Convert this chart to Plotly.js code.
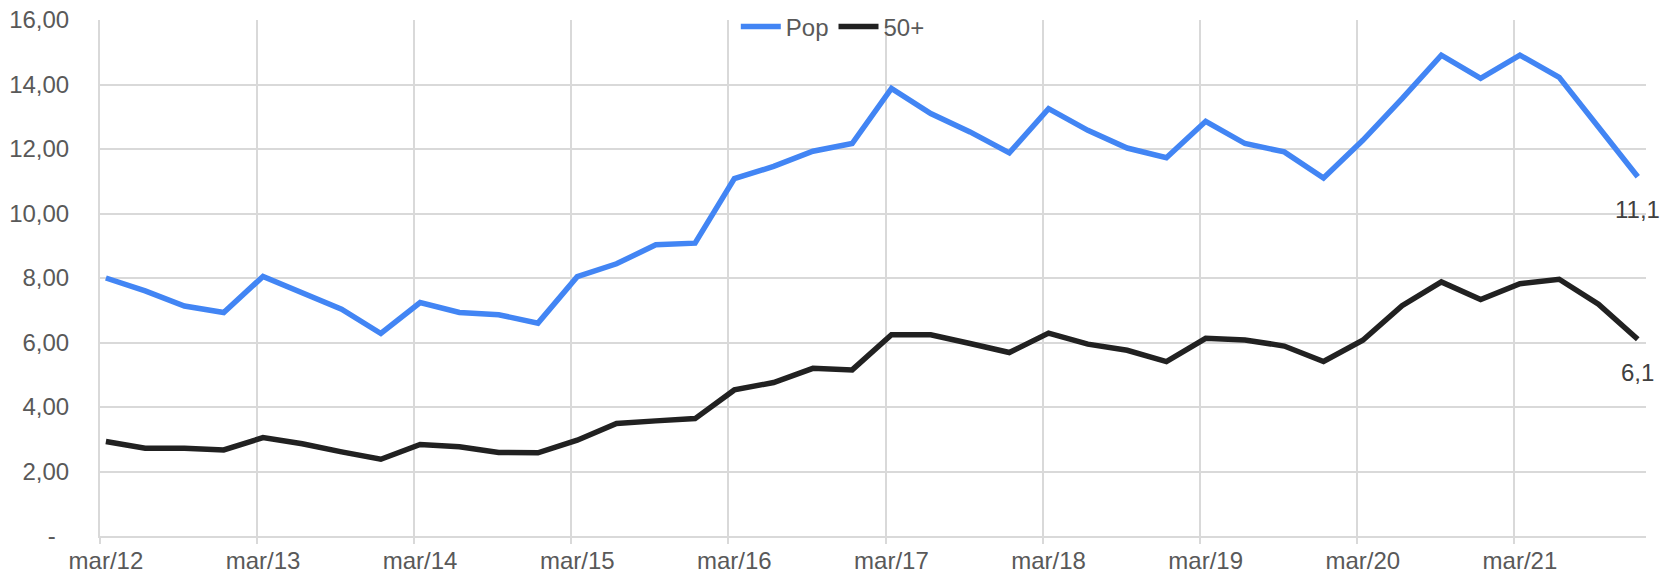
<!DOCTYPE html>
<html>
<head>
<meta charset="utf-8">
<script src="https://cdn.plot.ly/plotly-3.0.1.min.js"></script>
<style>
html,body{margin:0;padding:0;background:#fff;}
#chart{width:1663px;height:576px;}
</style>
</head>
<body>
<div id="chart"></div>
<script>
const quarters = [
  'mar/12','jun/12','set/12','dez/12',
  'mar/13','jun/13','set/13','dez/13',
  'mar/14','jun/14','set/14','dez/14',
  'mar/15','jun/15','set/15','dez/15',
  'mar/16','jun/16','set/16','dez/16',
  'mar/17','jun/17','set/17','dez/17',
  'mar/18','jun/18','set/18','dez/18',
  'mar/19','jun/19','set/19','dez/19',
  'mar/20','jun/20','set/20','dez/20',
  'mar/21','jun/21','set/21','dez/21'
];
const pop = [8.00,7.60,7.13,6.93,8.05,7.52,7.03,6.28,7.24,6.93,6.86,6.60,
             8.04,8.44,9.03,9.08,11.08,11.46,11.93,12.17,13.88,13.10,12.53,11.88,
             13.25,12.58,12.03,11.73,12.86,12.17,11.91,11.10,12.27,13.56,14.91,14.19,
             14.91,14.22,12.68,11.14];
const fiftyPlus = [2.93,2.72,2.72,2.67,3.05,2.86,2.61,2.38,2.84,2.77,2.59,2.58,
                   2.97,3.49,3.57,3.64,4.53,4.76,5.20,5.15,6.24,6.24,5.97,5.69,
                   6.29,5.95,5.76,5.41,6.13,6.08,5.89,5.41,6.07,7.14,7.88,7.33,
                   7.82,7.96,7.19,6.10];
const seriesNames = ['Pop', '50+'];
const yTickVals = [0,2,4,6,8,10,12,14,16];
const yTickText = ['-\u00A0\u00A0','2,00','4,00','6,00','8,00','10,00','12,00','14,00','16,00'];

const xIdx = quarters.map((_, i) => i);
const labelIdx = xIdx.filter(i => quarters[i].startsWith('mar'));
const labelText = labelIdx.map(i => quarters[i]);
const gridOffset = -0.15;
const gridIdx = labelIdx.map(i => i + gridOffset);
const xRange = [gridOffset, 39.21];

const fmt = v => v.toFixed(1).replace('.', ',');
const last = xIdx.length - 1;

const FONT = 'Liberation Sans, Arial, sans-serif';
const GRID = '#d9d9d9';

const traces = [
  {x: xIdx, y: pop, name: seriesNames[0], type: 'scatter', mode: 'lines',
   xaxis: 'x', yaxis: 'y',
   line: {color: '#4285F4', width: 5.5}},
  {x: xIdx, y: fiftyPlus, name: seriesNames[1], type: 'scatter', mode: 'lines',
   xaxis: 'x2', yaxis: 'y',
   line: {color: '#212121', width: 5.5}}
];

const layout = {
  width: 1663, height: 576,
  margin: {l: 99.5, r: 16.5, t: 20, b: 40.4, autoexpand: false},
  paper_bgcolor: '#fff', plot_bgcolor: '#fff',
  font: {family: FONT, size: 24, color: '#595959'},
  showlegend: true,
  legend: {orientation: 'h', x: 0.474, xanchor: 'center',
           yref: 'container', y: 1 - 27 / 576, yanchor: 'middle',
           bgcolor: 'rgba(0,0,0,0)', font: {size: 24, color: '#595959'},
           traceorder: 'normal', itemwidth: 40},
  xaxis: {range: xRange, tickmode: 'array', tickvals: labelIdx, ticktext: labelText,
          showgrid: false, zeroline: false, ticks: '', automargin: false,
          showline: true, linecolor: GRID, linewidth: 2,
          tickfont: {size: 24, color: '#595959'}, ticklabelstandoff: 2},
  xaxis2: {range: xRange, overlaying: 'x', anchor: 'y', side: 'bottom', automargin: false,
           tickmode: 'array', tickvals: gridIdx, showticklabels: false,
           showgrid: true, gridcolor: GRID, gridwidth: 2,
           ticks: 'outside', ticklen: 7, tickwidth: 2, tickcolor: GRID,
           zeroline: false, showline: false},
  yaxis: {range: [0, 16], tickmode: 'array', tickvals: yTickVals, ticktext: yTickText,
          showgrid: true, gridcolor: GRID, gridwidth: 2, zeroline: false, automargin: false,
          showline: true, linecolor: GRID, linewidth: 2, ticks: '', ticklabelstandoff: 24,
          tickfont: {size: 24, color: '#595959'}},
  annotations: [
    {x: last, y: pop[last], xref: 'x', yref: 'y', text: fmt(pop[last]), showarrow: false,
     yshift: -33, font: {size: 24, color: '#404040', family: FONT}},
    {x: last, y: fiftyPlus[last], xref: 'x', yref: 'y', text: fmt(fiftyPlus[last]), showarrow: false,
     yshift: -33, font: {size: 24, color: '#404040', family: FONT}}
  ]
};

Plotly.newPlot('chart', traces, layout, {displayModeBar: false, staticPlot: true});
</script>
</body>
</html>
